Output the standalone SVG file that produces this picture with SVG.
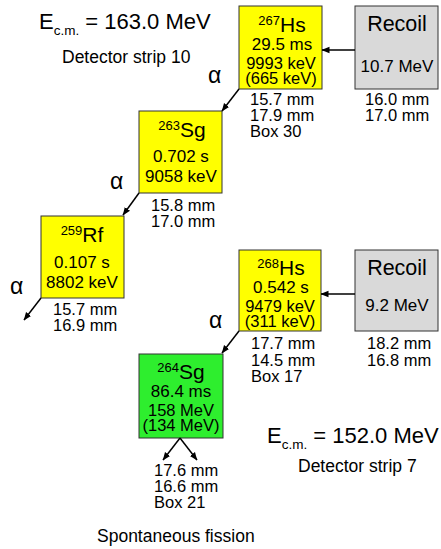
<svg xmlns="http://www.w3.org/2000/svg" width="441" height="549" viewBox="0 0 441 549">
<style>
text{font-family:"Liberation Sans",Arial,sans-serif;fill:#000}
.box{stroke:#333;stroke-width:1}
.y{fill:#ffff00}
.g{fill:#d9d9d9}
.gr{fill:#2eee2e}
.bt{font-size:17px;text-anchor:middle}
.bs{font-size:16.5px;text-anchor:middle}
.el{font-size:21px;text-anchor:middle}
.sup{font-size:13px}
.rc{font-size:21.5px;text-anchor:middle}
.mm{font-size:16.5px}
.al{font-size:23px}
.lab{font-size:17.5px}
.ecm{font-size:22px}
.sub{font-size:13.5px}
.con{stroke:#000;stroke-width:1.5;fill:none;marker-end:url(#ah)}
</style>
<defs>
<marker id="ah" markerUnits="userSpaceOnUse" markerWidth="8" markerHeight="8" viewBox="0 0 8 8" refX="7.5" refY="4" orient="auto">
<path d="M0,0.8 L8,4 L0,7.2 Z" fill="#000"/>
</marker>
</defs>

<g id="labels">
<text class="ecm" x="39" y="29">E<tspan class="sub" dy="6">c.m.</tspan><tspan dy="-6"> = 163.0 MeV</tspan></text>
<text class="lab" x="62" y="63">Detector strip 10</text>
<text class="ecm" x="267" y="443">E<tspan class="sub" dy="6">c.m.</tspan><tspan dy="-6"> = 152.0 MeV</tspan></text>
<text class="lab" x="298" y="472">Detector strip 7</text>
<text class="lab" x="97" y="542">Spontaneous fission</text>
<text class="al" x="208" y="83">α</text>
<text class="al" x="110" y="189">α</text>
<text class="al" x="10" y="294">α</text>
<text class="al" x="209" y="328">α</text>
</g>

<g id="hs267">
<rect class="box y" x="239" y="6" width="83" height="83"/>
<text class="el" x="282" y="32"><tspan class="sup" dy="-7">267</tspan><tspan dy="7">Hs</tspan></text>
<text class="bt" x="282" y="50">29.5 ms</text>
<text class="bs" x="281" y="69">9993 keV</text>
<text class="bs" x="281" y="83.5">(665 keV)</text>
<text class="mm" x="250" y="105">15.7 mm</text>
<text class="mm" x="250" y="121">17.9 mm</text>
<text class="mm" x="250" y="137">Box 30</text>
</g>

<g id="recoil1">
<rect class="box g" x="355" y="6" width="83" height="83"/>
<text class="rc" x="397" y="31">Recoil</text>
<text class="bt" x="397" y="72">10.7 MeV</text>
<text class="mm" x="365" y="105">16.0 mm</text>
<text class="mm" x="365" y="121">17.0 mm</text>
</g>

<g id="sg263">
<rect class="box y" x="139" y="111" width="83" height="82"/>
<text class="el" x="182" y="137"><tspan class="sup" dy="-7">263</tspan><tspan dy="7">Sg</tspan></text>
<text class="bt" x="181" y="162">0.702 s</text>
<text class="bt" x="181" y="182">9058 keV</text>
<text class="mm" x="151" y="211">15.8 mm</text>
<text class="mm" x="151" y="227">17.0 mm</text>
</g>

<g id="rf259">
<rect class="box y" x="41" y="216" width="83" height="82"/>
<text class="el" x="82" y="242"><tspan class="sup" dy="-7">259</tspan><tspan dy="7">Rf</tspan></text>
<text class="bt" x="82" y="268">0.107 s</text>
<text class="bt" x="82" y="288">8802 keV</text>
<text class="mm" x="53" y="315">15.7 mm</text>
<text class="mm" x="53" y="331">16.9 mm</text>
</g>

<g id="hs268">
<rect class="box y" x="239" y="250" width="82" height="81"/>
<text class="el" x="281" y="275"><tspan class="sup" dy="-7">268</tspan><tspan dy="7">Hs</tspan></text>
<text class="bt" x="281" y="293">0.542 s</text>
<text class="bs" x="280" y="312">9479 keV</text>
<text class="bs" x="280" y="326.5">(311 keV)</text>
<text class="mm" x="251" y="349">17.7 mm</text>
<text class="mm" x="251" y="366">14.5 mm</text>
<text class="mm" x="251" y="382">Box 17</text>
</g>

<g id="recoil2">
<rect class="box g" x="355" y="250" width="83" height="81"/>
<text class="rc" x="397" y="275">Recoil</text>
<text class="bt" x="397" y="311">9.2 MeV</text>
<text class="mm" x="367" y="349">18.2 mm</text>
<text class="mm" x="367" y="366">16.8 mm</text>
</g>

<g id="sg264">
<rect class="box gr" x="139" y="354" width="84" height="84"/>
<text class="el" x="181" y="379"><tspan class="sup" dy="-7">264</tspan><tspan dy="7">Sg</tspan></text>
<text class="bt" x="181" y="397">86.4 ms</text>
<text class="bs" x="181" y="415.5">158 MeV</text>
<text class="bs" x="181" y="430.5">(134 MeV)</text>
<text class="mm" x="154" y="476">17.6 mm</text>
<text class="mm" x="154" y="492">16.6 mm</text>
<text class="mm" x="154" y="508">Box 21</text>
</g>

<g id="connectors">
<line class="con" x1="355" y1="50" x2="322" y2="50"/>
<line class="con" x1="239" y1="89" x2="222" y2="111"/>
<line class="con" x1="139" y1="193" x2="123" y2="215"/>
<line class="con" x1="41" y1="298" x2="24" y2="320"/>
<line class="con" x1="355" y1="294" x2="321" y2="294"/>
<line class="con" x1="239" y1="331" x2="222" y2="353"/>
<line class="con" x1="180" y1="438" x2="163" y2="460"/>
<line class="con" x1="180" y1="438" x2="197" y2="460"/>
</g>
</svg>
